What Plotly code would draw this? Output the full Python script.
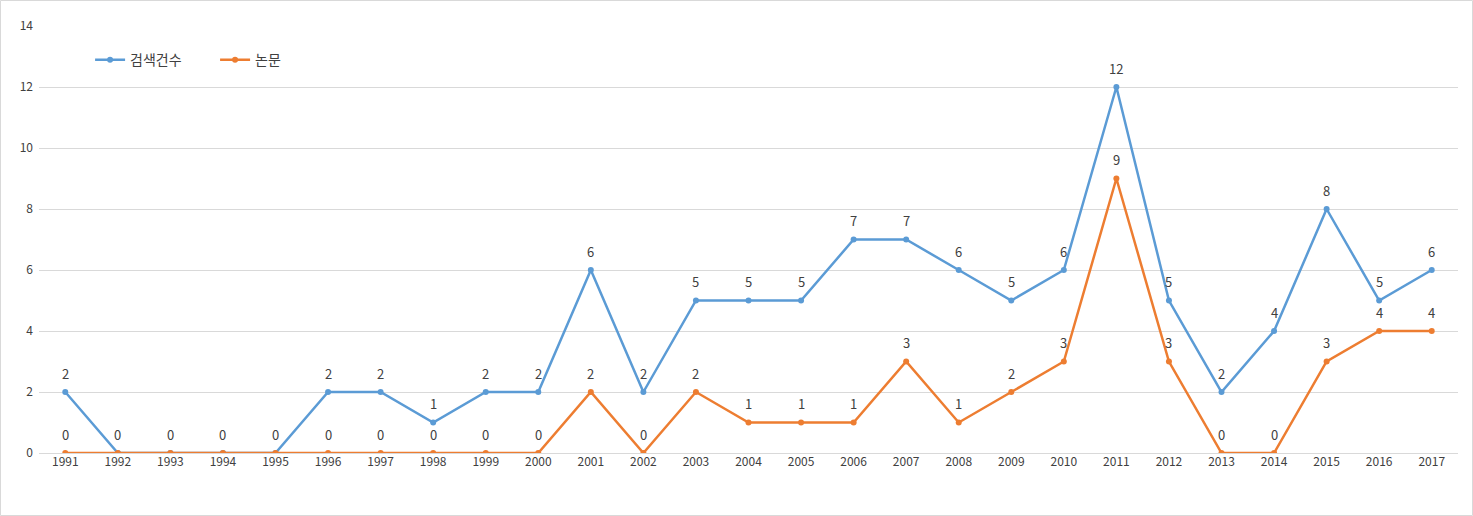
import plotly.graph_objects as go

years = [str(y) for y in range(1991, 2018)]
searches = [2, 0, 0, 0, 0, 2, 2, 1, 2, 2, 6, 2, 5, 5, 5, 7, 7, 6, 5, 6, 12, 5, 2, 4, 8, 5, 6]
papers = [0, 0, 0, 0, 0, 0, 0, 0, 0, 0, 2, 0, 2, 1, 1, 1, 3, 1, 2, 3, 9, 3, 0, 0, 3, 4, 4]

blue = '#5B9BD5'
orange = '#ED7D31'
font = 'Noto Sans CJK KR'

fig = go.Figure()
fig.add_trace(go.Scatter(x=years, y=searches, name='검색건수', mode='lines+markers',
                         line={'color': blue, 'width': 2.5}, marker={'size': 6, 'color': blue}))
fig.add_trace(go.Scatter(x=years, y=papers, name='논문', mode='lines+markers',
                         line={'color': orange, 'width': 2.5}, marker={'size': 6, 'color': orange}))

# value labels above points (blue zeros sit under the orange ones, skip them)
# annotation x given as category index, since numeric strings are read as indices
for i, v in enumerate(searches):
    if v != 0:
        fig.add_annotation(x=i, y=v, text=str(v), showarrow=False, yshift=19,
                           font={'size': 13, 'color': '#404040', 'family': font})
for i, v in enumerate(papers):
    fig.add_annotation(x=i, y=v, text=str(v), showarrow=False, yshift=19,
                       font={'size': 13, 'color': '#404040', 'family': font})

fig.update_layout(width=1473, height=516, plot_bgcolor='white', paper_bgcolor='white',
                  margin={'l': 39, 'r': 15, 't': 26, 'b': 63, 'autoexpand': False},
                  font={'family': font, 'color': '#595959'},
                  showlegend=True,
                  legend={'orientation': 'h', 'x': 0.036, 'y': 0.92, 'xanchor': 'left', 'yanchor': 'middle',
                          'font': {'size': 14, 'color': '#404040'}, 'bgcolor': 'rgba(0,0,0,0)',
                          'entrywidth': 80, 'entrywidthmode': 'pixels'})
fig.update_xaxes(type='category', range=[-0.5, len(years) - 0.5], showgrid=False, showline=False,
                 ticks='', tickangle=0, automargin=False, tickfont={'size': 12, 'color': '#404040'})
fig.update_yaxes(range=[0, 14], dtick=2, showgrid=True, gridcolor='#D9D9D9', zeroline=True,
                 zerolinecolor='#D9D9D9', zerolinewidth=1, automargin=False, ticklabelstandoff=5,
                 tickfont={'size': 12, 'color': '#404040'})

fig.add_shape(type='rect', xref='paper', yref='paper',
              x0=-38.5 / 1419, x1=1 + 14.5 / 1419, y0=-62.5 / 427, y1=1 + 25.5 / 427,
              line={'color': '#D9D9D9', 'width': 1}, fillcolor='rgba(0,0,0,0)', layer='below')

# drop the browser's default body margin so the figure sits at the page corner
fig.write_html("out.html", config={'displayModeBar': False},
               post_script="document.body.style.margin='0px';")
